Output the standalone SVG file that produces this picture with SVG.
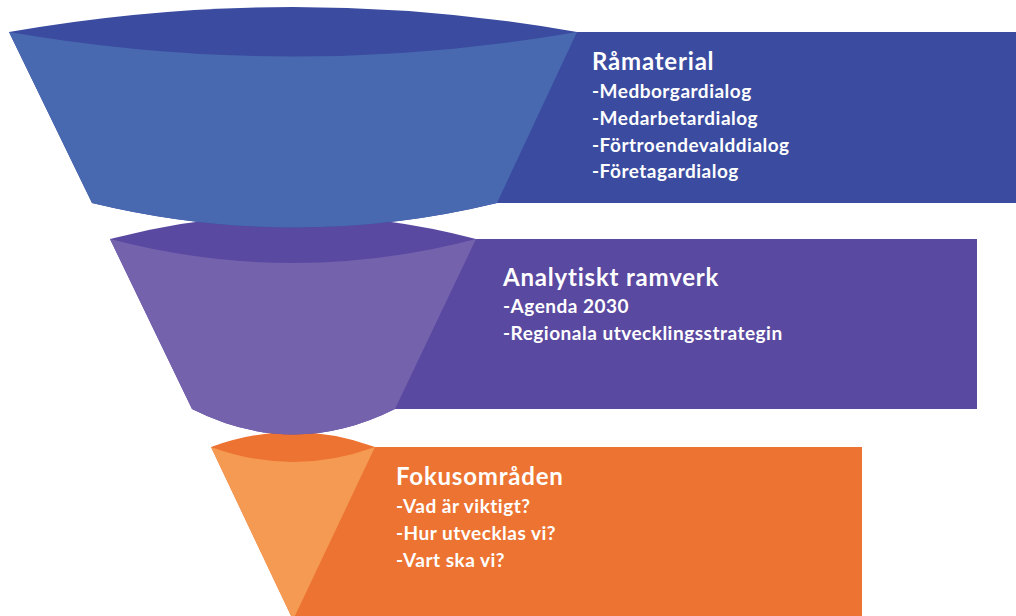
<svg xmlns="http://www.w3.org/2000/svg" width="1016" height="616" viewBox="0 0 1016 616">
<style>
.t{font-family:Lato,"Open Sans","Liberation Sans",sans-serif;font-weight:bold;fill:#ffffff}
.h{font-size:24px;letter-spacing:0.8px}
.i{font-size:19px;letter-spacing:0.5px}
</style>
<rect width="1016" height="616" fill="#ffffff"/>
<g id="band3">
<rect x="293" y="447" width="569" height="175" fill="#EC7331"/>
</g>
<g id="band2">
<rect x="293" y="239" width="684" height="170" fill="#5A49A0"/>
</g>
<g id="band1">
<rect x="293" y="32" width="723" height="171" fill="#3A4BA0"/>
</g>
<g id="funnel3">
<path d="M211,447 Q293,417 375,447 L293,620 Z" fill="#EC7331"/>
<path d="M211,447 Q293,477 375,447 L293,620 Z" fill="#F59A52"/>
</g>
<g id="funnel2">
<path d="M110,239 Q293,191 476,239 L395,409 Q293,460 192,409 Z" fill="#5A49A0"/>
<path d="M110,239 Q293,287 476,239 L395,409 Q293,460 192,409 Z" fill="#7562AD"/>
</g>
<g id="funnel1">
<path d="M9,32 Q293,-18 577,32 L497,203 Q295,252 92,203 Z" fill="#3A4BA0"/>
<path d="M9,32 Q293,81 577,32 L497,203 Q295,252 92,203 Z" fill="#4868B0"/>
</g>
<g id="text1">
<text class="t h" x="592" y="70">Råmaterial</text>
<text class="t i" x="592" y="98">-Medborgardialog</text>
<text class="t i" x="592" y="125">-Medarbetardialog</text>
<text class="t i" x="592" y="152">-Förtroendevalddialog</text>
<text class="t i" x="592" y="178">-Företagardialog</text>
</g>
<g id="text2">
<text class="t h" x="503" y="286">Analytiskt ramverk</text>
<text class="t i" x="503" y="313">-Agenda 2030</text>
<text class="t i" x="503" y="340">-Regionala utvecklingsstrategin</text>
</g>
<g id="text3">
<text class="t h" x="396" y="485">Fokusområden</text>
<text class="t i" x="396" y="513">-Vad är viktigt?</text>
<text class="t i" x="396" y="540">-Hur utvecklas vi?</text>
<text class="t i" x="396" y="567">-Vart ska vi?</text>
</g>
<g id="connectors"/>
</svg>
